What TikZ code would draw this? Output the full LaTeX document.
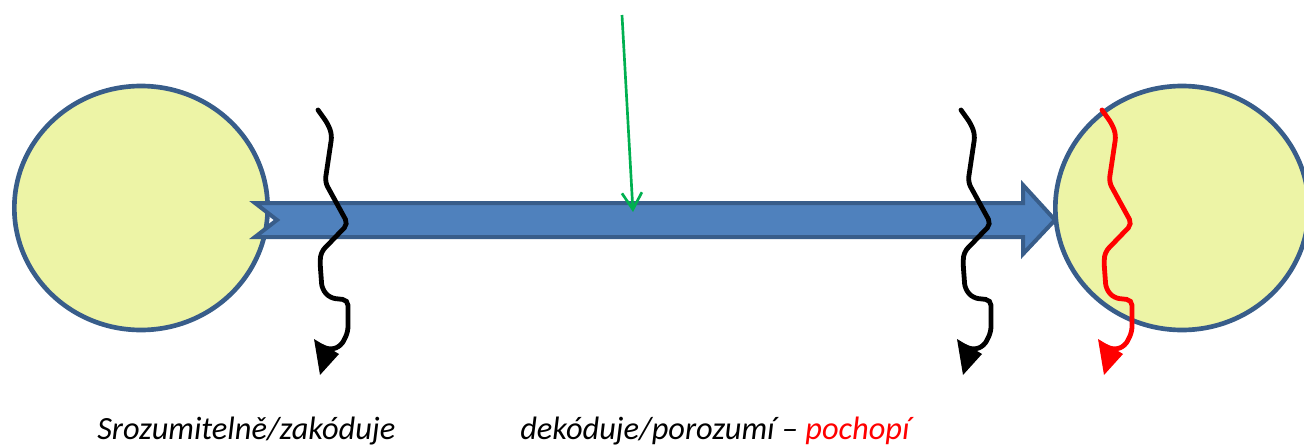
\documentclass[tikz,border=0pt]{standalone}
\usepackage{fontspec}
\setmainfont{Carlito}
\usetikzlibrary{arrows.meta,shapes.geometric}
\definecolor{ballfill}{RGB}{237,244,166}
\definecolor{darkblue}{RGB}{56,93,138}
\definecolor{chanblue}{RGB}{79,129,189}
\definecolor{noisegreen}{RGB}{0,176,80}
\tikzset{
  party/.style={ellipse, draw=darkblue, line width=3.5pt, fill=ballfill,
    minimum width=190pt, minimum height=183pt, inner sep=0pt},
  channel/.style={fill=chanblue, draw=darkblue, line width=3pt, line join=miter},
  noise/.style={draw=noisegreen, line width=2pt,
    -{Straight Barb[length=12.5pt,width=15pt,line width=2pt]}},
  wave/.style={line width=3.6pt, rounded corners=4, line cap=round},
  label/.style={font=\itshape\fontsize{24.3}{28}\selectfont, anchor=base west, inner sep=0pt}
}
% one wavy disturbance with its arrowhead, drawn in colour #1
\newcommand{\waveline}[1]{%
  \draw[wave, draw=#1] (318,110) -- (328,124) -- (332,135) -- (325,182) -- (348,224)
    -- (321,252) -- (320,262) -- (322,289) -- (330,298) -- (348,300) -- (348,332)
    -- (341,346) -- (330,350) -- (321,346);
  \fill[#1] (314,339) -- (339,354) -- (320,375) -- cycle;}
\begin{document}
\begin{tikzpicture}[x=0.75pt, y=-0.75pt]
  \useasboundingbox (0,0) rectangle (1304,446);
  \clip (0,0) rectangle (1304,446);
  % sender and receiver
  \node[party] (sender) at (141,208) {};
  \node[party] (receiver) at (1182,208) {};
  % the channel: notched block arrow
  \coordinate (tail) at (277,220);
  \coordinate (tip) at (1055,220);
  \draw[channel] (255,203) -- (1023,203) -- (1023,185) -- (tip) -- (1023,254)
    -- (1023,237) -- (255,237) -- (tail) -- cycle;
  % outside interference
  \coordinate (source) at (622,15);
  \coordinate (hit) at (633,212);
  \draw[noise] (source) -- (hit);
  % disturbances
  \waveline{black}
  \begin{scope}[shift={(643,0)}]
    \waveline{black}
  \end{scope}
  \begin{scope}[shift={(784,0)}]
    \waveline{red}
  \end{scope}
  % captions
  \node[label] (enc) at (97,439) {Srozumitelně/zakóduje};
  \node[label] (dec) at (520,439) {dekóduje/porozumí – \textcolor{red}{pochopí}};
\end{tikzpicture}
\end{document}
